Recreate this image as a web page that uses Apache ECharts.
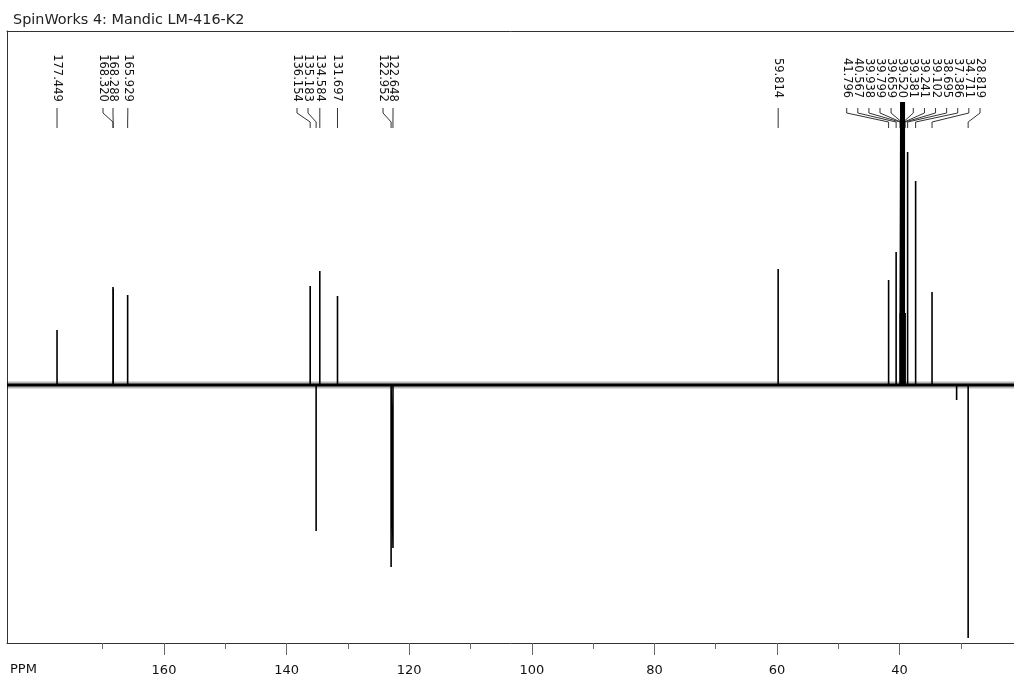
<!DOCTYPE html>
<html>
<head>
<meta charset="utf-8">
<script src="https://cdn.jsdelivr.net/npm/echarts@6/dist/echarts.min.js"></script>
<style>
html,body{margin:0;padding:0;background:#fff;}
#chart{width:1014px;height:677px;}
</style>
</head>
<body>
<div id="chart"></div>
<script>
// ---- data ----
const titleText = 'SpinWorks 4: Mandic LM-416-K2';
const axisName = 'PPM';
const ppmMin = 21.34;
const ppmMax = 185.61;
const majorTicks = [160, 140, 120, 100, 80, 60, 40];
const minorTicks = [170, 160, 150, 140, 130, 120, 110, 100, 90, 80, 70, 60, 50, 40, 30];

// spectrum peaks (ppm) and intensities (arbitrary units, baseline = 0)
const peakPpm = [177.449, 168.320, 168.288, 165.929, 136.154, 135.183, 134.584, 131.697,
  122.952, 122.648, 59.814, 41.796, 40.567, 39.938, 39.799, 39.659, 39.520, 39.381,
  39.241, 39.102, 38.695, 37.386, 34.711, 30.70, 28.819];
const peakHeight = [55, 98, 96, 90, 99, -146, 114, 89,
  -182, -163, 116, 105, 133, 72, 283, 283, 283, 283,
  283, 72, 233, 204, 93, -15, -253];

// peak annotations: label text and where the label column sits (ppm)
const labelText = ['177.449', '168.320', '168.288', '165.929', '136.154', '135.183', '134.584',
  '131.697', '122.952', '122.648', '59.814', '41.796', '40.567', '39.938', '39.799', '39.659',
  '39.520', '39.381', '39.241', '39.102', '38.695', '37.386', '34.711', '28.819'];
const labelPos = [177.45, 169.95, 168.32, 165.90, 138.30, 136.51, 134.58,
  131.70, 124.27, 122.64, 59.81, 48.63, 46.82, 45.01, 43.20, 41.39,
  39.58, 37.77, 35.95, 34.14, 32.33, 30.52, 28.71, 26.88];

// ---- build series data ----
const specData = [[ppmMax, 0]];
for (let i = 0; i < peakPpm.length; i++) {
  specData.push([peakPpm[i], 0], [peakPpm[i], peakHeight[i]], [peakPpm[i], 0]);
}
specData.push([ppmMin, 0]);
const baseData = [[ppmMax, 0], [ppmMin, 0]];
const labelData = labelText.map((t, i) => [Number(t), labelPos[i], 0]);

// ---- layout ----
const W = 1014;
const G = {left: 7, right: 0, top: 31, bottom: 34};
const plotW = W - G.left - G.right;
const xOf = p => G.left + (ppmMax - p) / (ppmMax - ppmMin) * plotW;
const majMax = Math.max(...majorTicks), majMin = Math.min(...majorTicks);
const minMax = Math.max(...minorTicks), minMin = Math.min(...minorTicks);

const FONT = '"DejaVu Sans", Verdana, sans-serif';
const frameLine = {show: true, onZero: false, lineStyle: {color: '#333', width: 1}};
const chart = echarts.init(document.getElementById('chart'), null, {renderer: 'canvas'});
chart.setOption({
  animation: false,
  backgroundColor: '#fff',
  title: {
    text: titleText, left: 8, top: 8,
    textStyle: {fontFamily: FONT, fontSize: 14.4, fontWeight: 'normal', color: '#222'}
  },
  graphic: [{
    type: 'text', left: 10, top: 663,
    style: {text: axisName, font: '13px ' + FONT, fill: '#111'}
  }],
  grid: [
    {left: G.left, top: G.top, right: G.right, bottom: G.bottom, show: false},
    {left: xOf(majMax), right: W - xOf(majMin), top: G.top, bottom: G.bottom, show: false},
    {left: xOf(minMax), right: W - xOf(minMin), top: G.top, bottom: G.bottom, show: false}
  ],
  xAxis: [{
    gridIndex: 0, type: 'value', inverse: true, min: ppmMin, max: ppmMax, position: 'bottom',
    axisLine: frameLine, axisTick: {show: false}, axisLabel: {show: false}, splitLine: {show: false}
  }, {
    gridIndex: 1, type: 'value', inverse: true, min: majMin, max: majMax, interval: 20, position: 'bottom',
    axisLine: {show: false, onZero: false},
    axisTick: {show: true, inside: false, length: 12, lineStyle: {color: '#666'}},
    axisLabel: {show: true, margin: 21, fontFamily: FONT, fontSize: 13, color: '#111'},
    splitLine: {show: false}
  }, {
    gridIndex: 2, type: 'value', inverse: true, min: minMin, max: minMax, interval: 10, position: 'bottom',
    axisLine: {show: false, onZero: false},
    axisTick: {show: true, inside: false, length: 6, lineStyle: {color: '#666'}},
    axisLabel: {show: false}, splitLine: {show: false}
  }, {
    gridIndex: 0, type: 'value', inverse: true, min: ppmMin, max: ppmMax, position: 'top',
    axisLine: frameLine, axisTick: {show: false}, axisLabel: {show: false}, splitLine: {show: false}
  }],
  yAxis: [
    {gridIndex: 0, type: 'value', min: -258, max: 354, position: 'left',
      axisLine: frameLine, axisTick: {show: false}, axisLabel: {show: false}, splitLine: {show: false}},
    {gridIndex: 1, type: 'value', min: 0, max: 1, show: false, splitLine: {show: false}},
    {gridIndex: 2, type: 'value', min: 0, max: 1, show: false, splitLine: {show: false}}
  ],
  series: [{
    type: 'line', name: 'noise', data: baseData, xAxisIndex: 0, yAxisIndex: 0, showSymbol: false, silent: true,
    lineStyle: {color: 'rgba(0,0,0,0.28)', width: 7}
  }, {
    type: 'line', name: 'baseline', data: baseData, xAxisIndex: 0, yAxisIndex: 0, showSymbol: false, silent: true,
    lineStyle: {color: '#000', width: 3}
  }, {
    type: 'line', name: 'spectrum', data: specData, xAxisIndex: 0, yAxisIndex: 0, showSymbol: false, silent: true,
    lineStyle: {color: '#000', width: 1.6, join: 'miter'}
  }, {
    type: 'custom', name: 'labels', data: labelData, xAxisIndex: 0, yAxisIndex: 0, silent: true, clip: false,
    encode: {x: [0, 1], y: 2},
    renderItem: function (params, api) {
      const px = api.coord([api.value(0), 0])[0];
      const lx = api.coord([api.value(1), 0])[0];
      const top = params.coordSys.y;
      return {
        type: 'group',
        children: [{
          type: 'text', x: lx, y: top + 47, rotation: -Math.PI / 2,
          style: {text: labelText[params.dataIndex], fill: '#111', font: '11.5px ' + FONT, align: 'center', verticalAlign: 'middle'}
        }, {
          type: 'polyline',
          shape: {points: [[lx, top + 77], [lx, top + 82], [px, top + 91], [px, top + 97]]},
          style: {stroke: '#333', lineWidth: 1, fill: null}
        }]
      };
    }
  }]
});
</script>
</body>
</html>
